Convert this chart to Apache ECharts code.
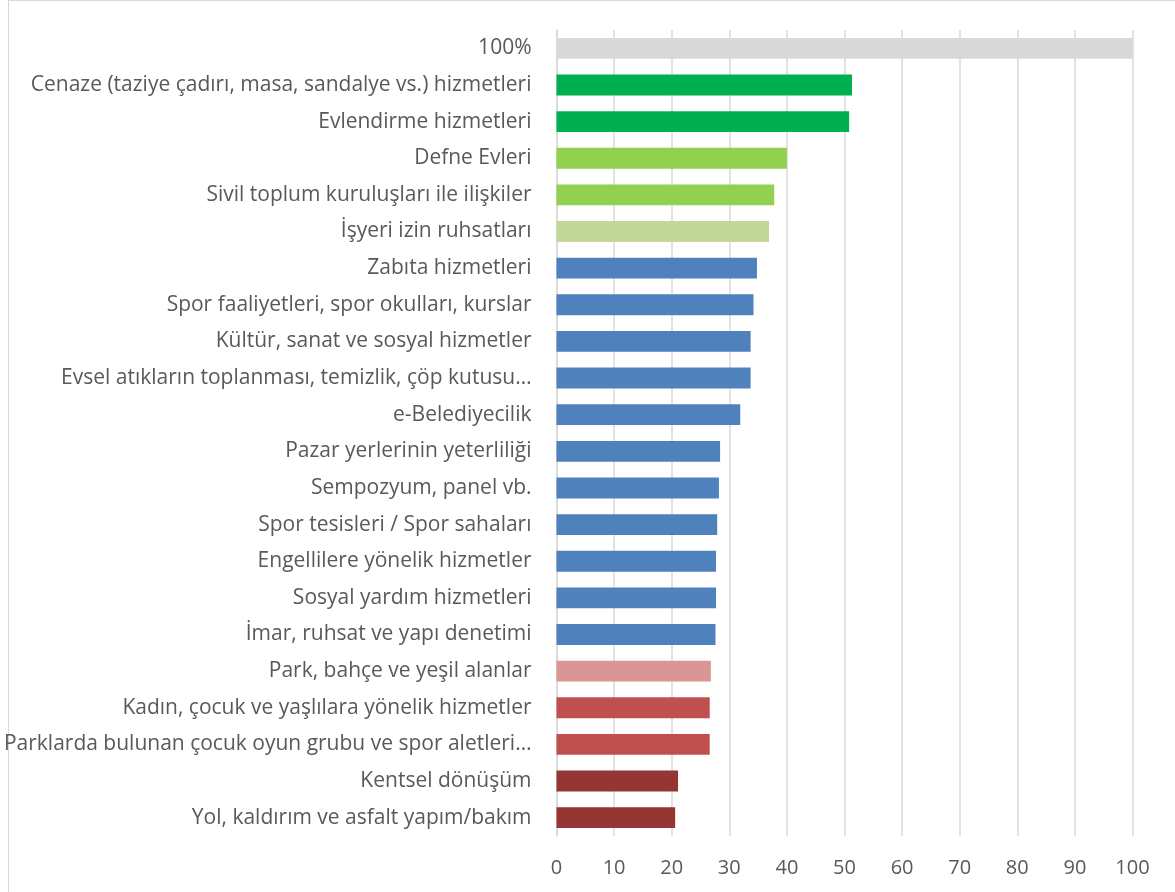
<!DOCTYPE html>
<html>
<head>
<meta charset="utf-8">
<script src="https://cdn.jsdelivr.net/npm/echarts@6/dist/echarts.min.js"></script>
<style>
  html, body { margin: 0; padding: 0; background: #fff; }
  .frame {
    position: absolute;
    left: 8px;
    top: 0;
    width: 1180px;
    height: 900px;
    border: 1.5px solid #d9d9d9;
    box-sizing: border-box;
  }
  #chart { position: absolute; left: 0; top: 0; width: 1175px; height: 892px; }
</style>
</head>
<body>
<div class="frame"></div>
<div id="chart"></div>
<script>
const categories = [
  '100%',
  'Cenaze (taziye çadırı, masa, sandalye vs.) hizmetleri',
  'Evlendirme hizmetleri',
  'Defne Evleri',
  'Sivil toplum kuruluşları ile ilişkiler',
  'İşyeri izin ruhsatları',
  'Zabıta hizmetleri',
  'Spor faaliyetleri, spor okulları, kurslar',
  'Kültür, sanat ve sosyal hizmetler',
  'Evsel atıkların toplanması, temizlik, çöp kutusu…',
  'e-Belediyecilik',
  'Pazar yerlerinin yeterliliği',
  'Sempozyum, panel vb.',
  'Spor tesisleri / Spor sahaları',
  'Engellilere yönelik hizmetler',
  'Sosyal yardım hizmetleri',
  'İmar, ruhsat ve yapı denetimi',
  'Park, bahçe ve yeşil alanlar',
  'Kadın, çocuk ve yaşlılara yönelik hizmetler',
  'Parklarda bulunan çocuk oyun grubu ve spor aletleri…',
  'Kentsel dönüşüm',
  'Yol, kaldırım ve asfalt yapım/bakım'
]

const values = [
  100, 51.3, 50.8, 40.0, 37.8, 36.9, 34.8, 34.2, 33.7, 33.7, 31.9,
  28.4, 28.2, 27.9, 27.7, 27.7, 27.6, 26.8, 26.6, 26.6, 21.1, 20.6
]

// one colour per bar, same order as categories
const barColors = [
  '#d9d9d9', '#00b050', '#00b050', '#92d050', '#92d050', '#c4d79b',
  '#4f81bd', '#4f81bd', '#4f81bd', '#4f81bd', '#4f81bd', '#4f81bd',
  '#4f81bd', '#4f81bd', '#4f81bd', '#4f81bd', '#4f81bd', '#da9694',
  '#c0504d', '#c0504d', '#963634', '#963634'
]

const xTicks = [0, 10, 20, 30, 40, 50, 60, 70, 80, 90, 100]

const chart = echarts.init(document.getElementById('chart'))

const option = {
  animation: false,
  grid: {
    left: 556.5,
    right: 42.5,
    top: 30,
    bottom: 56,
    containLabel: false
  },
  xAxis: {
    type: 'value',
    min: xTicks[0],
    max: xTicks[xTicks.length - 1],
    interval: 10,
    axisLine: { show: false },
    axisTick: { show: false },
    axisLabel: {
      color: '#595959',
      fontFamily: 'Open Sans',
      fontSize: 20,
      margin: 22
    },
    splitLine: {
      show: true,
      lineStyle: { color: '#d9d9d9', width: 1.5 }
    }
  },
  yAxis: {
    type: 'category',
    inverse: true,
    data: categories,
    axisLine: {
      show: true,
      lineStyle: { color: '#d9d9d9', width: 1.5 }
    },
    axisTick: { show: false },
    axisLabel: {
      color: '#595959',
      fontFamily: 'Open Sans',
      fontSize: 21,
      margin: 25
    }
  },
  series: [
    {
      type: 'bar',
      barCategoryGap: '43%',
      data: values.map((v, i) => ({
        value: v,
        itemStyle: { color: barColors[i] }
      }))
    }
  ]
}

chart.setOption(option)
</script>
</body>
</html>
